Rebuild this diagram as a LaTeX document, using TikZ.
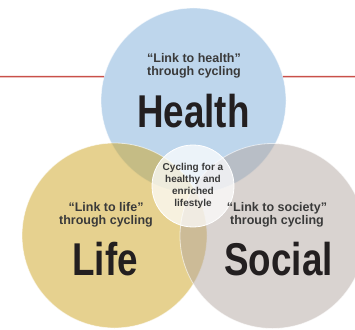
\documentclass[tikz,border=0pt]{standalone}
\usepackage{fontspec}
\setmainfont{Liberation Sans}
\newfontfamily\narrowfont[FakeStretch=0.8]{Liberation Sans}
\usepackage{xcolor}

\definecolor{healthblue}{RGB}{125,173,217}
\definecolor{lifegold}{RGB}{205,163,31}
\definecolor{socialgray}{RGB}{179,167,161}
\definecolor{linered}{RGB}{201,80,74}
\definecolor{labelgray}{RGB}{58,58,58}
\definecolor{wordblack}{RGB}{35,31,32}

\tikzset{
  area/.style={circle, minimum size=185pt, inner sep=0pt, outer sep=0pt,
    fill=#1, fill opacity=0.5, draw=white, draw opacity=0.6, line width=0.8pt},
  hub/.style={circle, minimum size=82pt, inner sep=0pt, fill=white,
    fill opacity=0.72, text opacity=1, draw=white, line width=0.8pt,
    align=center, text=labelgray, font=\bfseries\fontsize{10}{12}\selectfont},
  tagline/.style={align=center, text=labelgray,
    font=\bfseries\fontsize{12.5}{13.5}\selectfont},
  bigword/.style={anchor=base, text=wordblack,
    font=\narrowfont\bfseries\fontsize{46}{46}\selectfont},
  redline/.style={linered, line width=1.5pt},
}

\begin{document}
\begin{tikzpicture}[x=1pt,y=-1pt]
  \useasboundingbox (0,0) rectangle (355,329);

  % the three circles
  \node[area=healthblue] (health) at (193.5,100.5) {};
  \node[area=lifegold]   (life)   at (114.5,235.5) {};
  \node[area=socialgray] (social) at (272.5,236) {};

  % red rule on both sides of the top circle
  \coordinate (ruleL) at (0,76.5);
  \coordinate (ruleR) at (355,76.5);
  \draw[redline] (ruleL) -- (health.165);
  \draw[redline] (health.15) -- (ruleR);

  % centre
  \node[hub] (lifestyle) at (193,186) {Cycling for a\\healthy and\\enriched\\lifestyle};

  % taglines
  \node[tagline] (healthtag) at (194,66)  {``Link to health''\\through cycling};
  \node[tagline] (lifetag)   at (106,215) {``Link to life''\\through cycling};
  \node[tagline] (socialtag) at (277,215) {``Link to society''\\through cycling};

  % big words
  \node[bigword] (healthword) at (193.5,127) {Health};
  \node[bigword] (lifeword)   at (105,275)   {Life};
  \node[bigword] (socialword) at (278.5,275) {Social};
\end{tikzpicture}
\end{document}
